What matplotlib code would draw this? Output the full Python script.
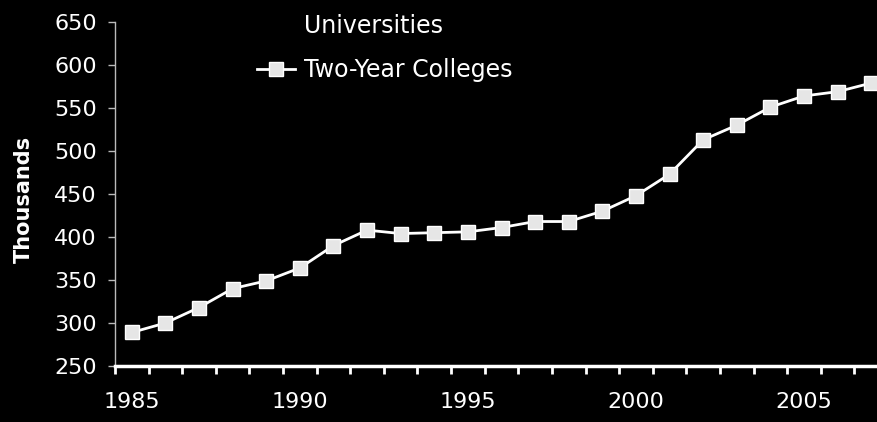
import matplotlib
matplotlib.use('Agg')
import matplotlib.pyplot as plt
from matplotlib.lines import Line2D

# ============ 数据 ============
years = list(range(1985, 2008))
two_year = [289, 300, 318, 340, 349, 364, 390, 408, 404, 405, 406, 411,
            418, 418, 430, 448, 473, 513, 530, 551, 564, 569, 579]
label_years = [1985, 1990, 1995, 2000, 2005]
y_ticks = [250, 300, 350, 400, 450, 500, 550, 600, 650]

plt.rcParams['font.family'] = ['DejaVu Sans']

fig = plt.figure(figsize=(8.77, 4.22), dpi=100, facecolor='black')
ax = fig.add_axes([115 / 877, 56 / 422, 773 / 877, 344 / 422], facecolor='black')

x = list(range(len(years)))
ax.plot(x, two_year, color='white', linewidth=2,
        marker='s', markersize=10.5, markerfacecolor='#e6e6e6',
        markeredgecolor='white', markeredgewidth=1, label='Two-Year Colleges')

ax.set_xlim(-0.5, len(years) - 0.5)
ax.set_ylim(250, 650)

# x轴: 刻度在类别之间, 标签每5年
ax.set_xticks([i - 0.5 for i in range(len(years) + 1)], minor=True)
ax.set_xticks([years.index(y) for y in label_years])
ax.set_xticklabels([str(y) for y in label_years])
ax.tick_params(axis='x', which='major', length=0, pad=19, labelsize=16, colors='white')
ax.tick_params(axis='x', which='minor', length=6, width=2, direction='out', color='white')

ax.set_yticks(y_ticks)
ax.tick_params(axis='y', length=5, width=1, direction='out', color='#bbbbbb',
               labelsize=16, labelcolor='white', pad=8)

for s in ['top', 'right']:
    ax.spines[s].set_visible(False)
ax.spines['left'].set_color('#bbbbbb')
ax.spines['left'].set_linewidth(1)
ax.spines['bottom'].set_color('white')
ax.spines['bottom'].set_linewidth(2.5)

ax.set_ylabel('Thousands', fontsize=15, fontweight='bold', color='white')
ax.yaxis.set_label_coords(-0.105, 0.483)

# 图例 (Universities 系列为黑色, 不可见)
handles = [Line2D([], [], color='black', linewidth=2),
           Line2D([], [], color='white', linewidth=2, marker='s', markersize=10.5,
                  markerfacecolor='#e6e6e6', markeredgecolor='white')]
leg = fig.legend(handles, ['Universities', 'Two-Year Colleges'],
                 loc='upper left', bbox_to_anchor=(257 / 877, 1 - 14 / 422),
                 frameon=False, fontsize=17, handlelength=1.6, handletextpad=0.4,
                 labelspacing=0.85, borderpad=0, borderaxespad=0)
for t in leg.get_texts():
    t.set_color('white')

plt.savefig('out.png', dpi=100, facecolor='black')
plt.close()
